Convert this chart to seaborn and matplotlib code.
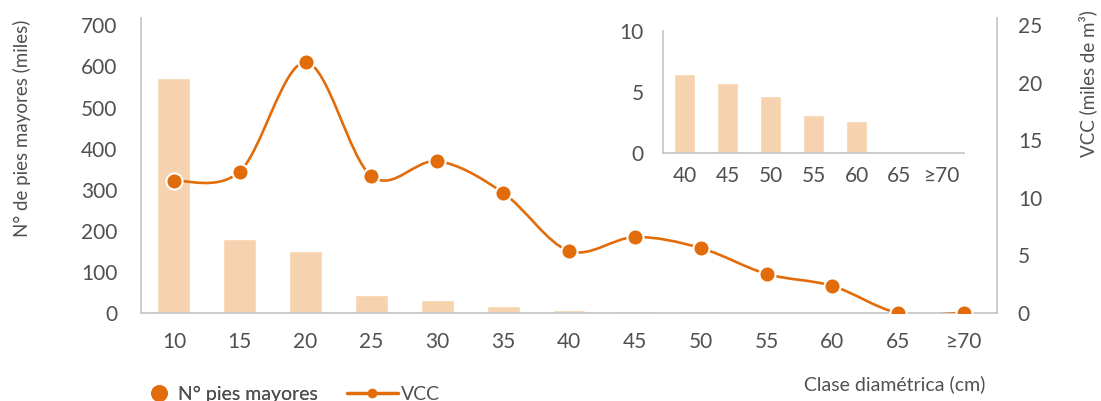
import numpy as np
import matplotlib
matplotlib.use("Agg")
import matplotlib.pyplot as plt
from matplotlib.path import Path
from matplotlib.patches import PathPatch
from matplotlib.lines import Line2D
import seaborn as sns

# datos
clases = ['10', '15', '20', '25', '30', '35', '40', '45', '50', '55', '60', '65', '≥70']
pies_mayores = [572, 181, 151, 45, 31, 17, 6.5, 5.7, 4.7, 3.1, 2.6, 0, 0]   # miles
vcc = [11.5, 12.3, 21.8, 11.9, 13.2, 10.45, 5.4, 6.6, 5.65, 3.4, 2.35, 0, 0]  # miles de m3
clases_det = clases[6:]
pies_det = pies_mayores[6:]

NARANJA = '#E36C0A'
CLARO = '#F6D3AE'
GRIS = '#505050'
EJE = '#C8C8C8'

sns.set_theme(style='white')
plt.rcParams['font.family'] = ['Lato', 'DejaVu Sans']
plt.rcParams['text.color'] = GRIS
plt.rcParams['xtick.color'] = GRIS
plt.rcParams['ytick.color'] = GRIS

W, H = 1101, 401
fig = plt.figure(figsize=(W / 100, H / 100), dpi=100)
ax = fig.add_axes([141 / W, 1 - 313 / H, (997 - 141) / W, (313 - 18) / H])

sns.barplot(x=clases, y=pies_mayores, color=CLARO, saturation=1, width=0.5, ax=ax)
ax.set_ylim(0, 718)
ax.set_yticks(range(0, 701, 100))
ax.set_xlim(-0.5, len(clases) - 0.5)

ax2 = ax.twinx()
ax2.set_ylim(0, 25.65)
ax2.set_yticks(range(0, 26, 5))

# linea suavizada (estilo Excel): bezier por los puntos
xs = np.arange(len(vcc), dtype=float)
pts = np.column_stack([xs, vcc])
verts = [pts[0]]
codes = [Path.MOVETO]
for i in range(len(pts) - 1):
    p0 = pts[max(i - 1, 0)]
    p1 = pts[i]
    p2 = pts[i + 1]
    p3 = pts[min(i + 2, len(pts) - 1)]
    verts += [p1 + (p2 - p0) / 6, p2 - (p3 - p1) / 6, p2]
    codes += [Path.CURVE4] * 3
ax2.add_patch(PathPatch(Path(verts, codes), facecolor='none', edgecolor=NARANJA,
                        lw=1.9, zorder=2))
sns.scatterplot(x=xs, y=vcc, color=NARANJA, s=135, edgecolor='white', linewidth=1.5,
                ax=ax2, zorder=3, legend=False)

for a in (ax, ax2):
    for s in a.spines.values():
        s.set_visible(False)
    a.tick_params(length=0, labelsize=15)
    a.set_xlabel('')
    a.set_ylabel('')
ax.spines['left'].set_visible(True)
ax.spines['bottom'].set_visible(True)
ax2.spines['right'].set_visible(True)
for s in (ax.spines['left'], ax.spines['bottom'], ax2.spines['right']):
    s.set_color(EJE)
    s.set_linewidth(1.3)
ax.tick_params(axis='y', pad=17)
ax.tick_params(axis='x', pad=14)
ax2.tick_params(axis='y', pad=15)

# grafico de detalle
axi = fig.add_axes([663 / W, 1 - 153 / H, (964 - 663) / W, (153 - 31) / H])
axi.patch.set_alpha(0)
sns.barplot(x=clases_det, y=pies_det, color=CLARO, saturation=1, width=0.5, ax=axi)
axi.set_ylim(0, 10)
axi.set_yticks([0, 5, 10])
axi.set_xlim(-0.5, len(clases_det) - 0.5)
for s in axi.spines.values():
    s.set_visible(False)
for k in ('left', 'bottom'):
    axi.spines[k].set_visible(True)
    axi.spines[k].set_color(EJE)
    axi.spines[k].set_linewidth(1.3)
axi.tick_params(length=0, labelsize=15)
axi.tick_params(axis='y', pad=14)
axi.tick_params(axis='x', pad=9)

# textos
fig.text(22 / W, 1 - 128 / H, 'N° de pies mayores (miles)', rotation=90,
         ha='center', va='center', fontsize=13.5)
fig.text(1088 / W, 1 - 84 / H, 'VCC (miles de m³)', rotation=90,
         ha='center', va='center', fontsize=13.5)
fig.text(985 / W, 1 - 384 / H, 'Clase diamétrica (cm)', ha='right', va='center',
         fontsize=14, family=['Liberation Sans Narrow', 'Lato', 'DejaVu Sans'])

# leyenda en dos piezas para ajustar cada entrada
ley1 = fig.legend([Line2D([], [], ls='none', marker='o', ms=11, color=NARANJA)],
                  ['N° pies mayores'], loc='center left',
                  bbox_to_anchor=(149 / W, 1 - 394 / H), frameon=False, fontsize=14,
                  handlelength=1.0, handletextpad=0.5, borderaxespad=0, borderpad=0)
fig.legend([Line2D([], [], ls='-', lw=2.5, marker='o', ms=6, color=NARANJA)],
           ['VCC'], loc='center left',
           bbox_to_anchor=(347 / W, 1 - 394 / H), frameon=False, fontsize=14,
           handlelength=2.6, handletextpad=0.15, borderaxespad=0, borderpad=0)
fig.add_artist(ley1)

fig.savefig('out.png', dpi=100)
